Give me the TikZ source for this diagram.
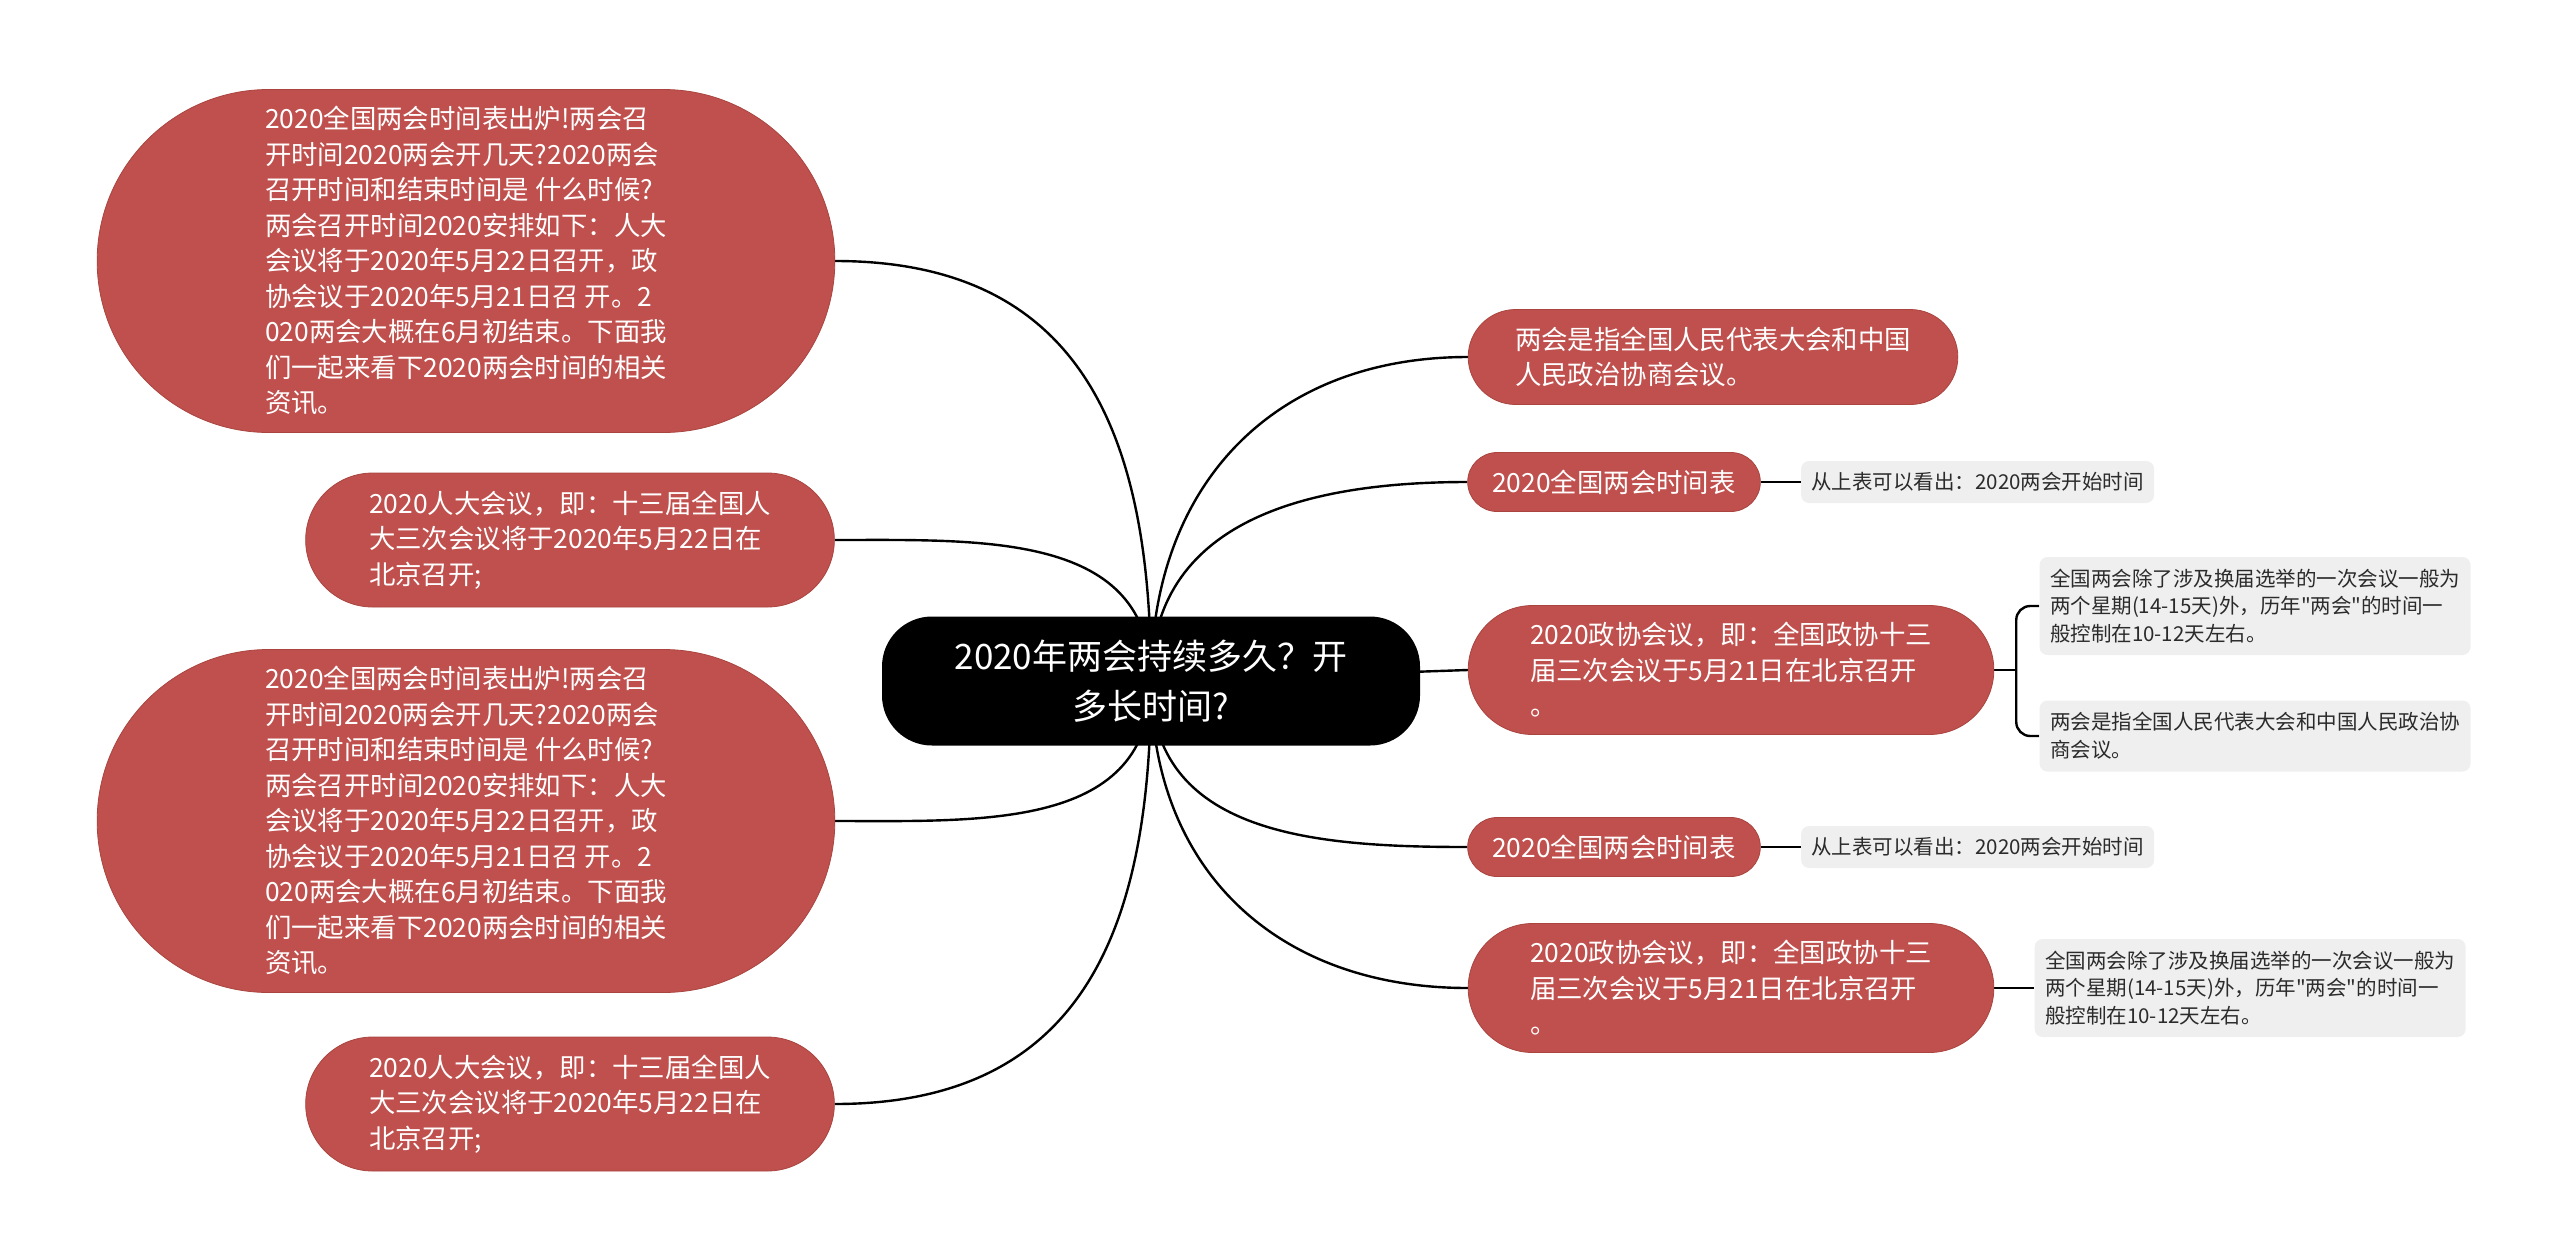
\documentclass[tikz,border=0pt]{standalone}
\usepackage{fontspec}
\setmainfont{Noto Sans CJK SC}[Ligatures=TeXOff]
\usepackage{tikz}
\usetikzlibrary{shapes.misc, positioning, backgrounds}
\definecolor{topicred}{HTML}{C0504D}
\definecolor{topicedge}{HTML}{A9443F}
\definecolor{notegray}{HTML}{EFEFEF}
\definecolor{notetext}{HTML}{2B2B2B}
\tikzstyle{hub} = [rectangle, rounded corners=25pt, fill=black, text=white, align=center, minimum width=269pt, minimum height=64.5pt, font=\fontsize{17.5}{25.3}\selectfont]
\tikzstyle{topic} = [rounded rectangle, fill=topicred, draw=topicedge, line width=0.4pt, text=white, align=left, font=\fontsize{13.2}{17.75}\selectfont]
\tikzstyle{note} = [rectangle, rounded corners=4pt, fill=notegray, text=notetext, align=left, minimum width=215.5pt, inner xsep=5pt, font=\fontsize{10.25}{13.9}\selectfont]
\tikzstyle{link} = [line width=1.2pt, black]

\begin{document}
\begin{tikzpicture}[x=0.5pt, y=-0.5pt]
    \useasboundingbox (0,0) rectangle (2560,1259);
    % Nodes
    \node (hub) [hub] at (1151,681) {2020年两会持续多久？开\\多长时间?};

    \node (intro1) [topic, minimum width=375.5pt, minimum height=171.5pt] at (466,261) {2020全国两会时间表出炉!两会召\\开时间2020两会开几天?2020两会\\召开时间和结束时间是 什么时候?\\两会召开时间2020安排如下：人大\\会议将于2020年5月22日召开，政\\协会议于2020年5月21日召 开。2\\020两会大概在6月初结束。下面我\\们一起来看下2020两会时间的相关\\资讯。};
    \node (npc1) [topic, minimum width=271pt, minimum height=67pt] at (570,540) {2020人大会议，即：十三届全国人\\大三次会议将于2020年5月22日在\\北京召开;};
    \node (intro2) [topic, minimum width=375.5pt, minimum height=171.5pt] at (466,821) {2020全国两会时间表出炉!两会召\\开时间2020两会开几天?2020两会\\召开时间和结束时间是 什么时候?\\两会召开时间2020安排如下：人大\\会议将于2020年5月22日召开，政\\协会议于2020年5月21日召 开。2\\020两会大概在6月初结束。下面我\\们一起来看下2020两会时间的相关\\资讯。};
    \node (npc2) [topic, minimum width=271pt, minimum height=67pt] at (570,1104) {2020人大会议，即：十三届全国人\\大三次会议将于2020年5月22日在\\北京召开;};

    \node (meaning) [topic, minimum width=251.5pt, minimum height=47.5pt] at (1713,357) {两会是指全国人民代表大会和中国\\人民政治协商会议。};
    \node (table1) [topic, minimum width=153pt, minimum height=29.5pt] at (1614,482) {2020全国两会时间表};
    \node (table1note) [note, right=20pt of table1, minimum width=176.5pt, minimum height=21pt] {从上表可以看出：2020两会开始时间};

    \node (cppcc1) [topic, minimum width=269.5pt, minimum height=64.5pt] at (1731,670) {2020政协会议，即：全国政协十三\\届三次会议于5月21日在北京召开\\。};
    \node (cppcc1a) [note, minimum height=49pt] at (2255,606) {全国两会除了涉及换届选举的一次会议一般为\\两个星期(14-15天)外，历年"两会"的时间一\\般控制在10-12天左右。};
    \node (cppcc1b) [note, minimum height=35.5pt] at (2255,736) {两会是指全国人民代表大会和中国人民政治协\\商会议。};

    \node (table2) [topic, minimum width=153pt, minimum height=29.5pt] at (1614,847) {2020全国两会时间表};
    \node (table2note) [note, right=20pt of table2, minimum width=176.5pt, minimum height=21pt] {从上表可以看出：2020两会开始时间};

    \node (cppcc2) [topic, minimum width=269.5pt, minimum height=64.5pt] at (1731,988) {2020政协会议，即：全国政协十三\\届三次会议于5月21日在北京召开\\。};
    \node (cppcc2note) [note, right=20pt of cppcc2, minimum height=49pt] {全国两会除了涉及换届选举的一次会议一般为\\两个星期(14-15天)外，历年"两会"的时间一\\般控制在10-12天左右。};

    \coordinate (fork) at ([xshift=11pt]cppcc1.east);

    % Connectors
    \begin{scope}[on background layer]
        \draw [link] (hub.center) to[out=90, in=0, looseness=1.2] (intro1.east);
        \draw [link] (hub.center) to[out=90, in=0, looseness=1.1] (npc1.east);
        \draw [link] (hub.center) to[out=-90, in=0, looseness=1.1] (intro2.east);
        \draw [link] (hub.center) to[out=-90, in=0, looseness=1.2] (npc2.east);

        \draw [link] (hub.center) to[out=90, in=180, looseness=1.1] (meaning.west);
        \draw [link] (hub.center) to[out=90, in=180, looseness=1.1] (table1.west);
        \draw [link] (hub.center) -- (cppcc1.west);
        \draw [link] (hub.center) to[out=-90, in=180, looseness=1.1] (table2.west);
        \draw [link] (hub.center) to[out=-90, in=180, looseness=1.1] (cppcc2.west);

        \draw [link] (table1.east) -- (table1note.west);
        \draw [link] (table2.east) -- (table2note.west);
        \draw [link] (cppcc2.east) -- (cppcc2note.west);
        \draw [link] (cppcc1.east) -- (fork);
        \draw [link, rounded corners=7pt] (cppcc1a.west) -| (fork) |- (cppcc1b.west);
    \end{scope}
\end{tikzpicture}
\end{document}
